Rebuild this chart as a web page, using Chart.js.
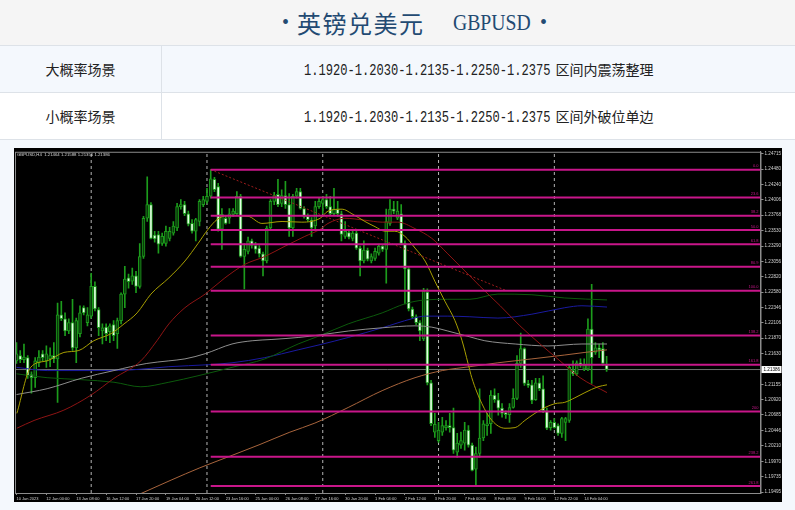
<!DOCTYPE html>
<html>
<head>
<meta charset="utf-8">
<script src="https://cdn.jsdelivr.net/npm/chart.js@4.4.0/dist/chart.umd.min.js"></script>
<style>
  body { margin: 0; width: 795px; height: 510px; background: #f4f8fd; position: relative; overflow: hidden;
         font-family: "Noto Sans CJK SC", sans-serif; }
  #title { position: absolute; left: 0; top: 0; width: 795px; height: 45px; background: #f5f5f5; color: #234a72; }
  #title span { position: absolute; top: 0; height: 45px; line-height: 45px; white-space: nowrap; }
  #title .dot { font-family: "Liberation Serif", serif; font-size: 20px; }
  #title .cn { left: 297px; font-size: 24px; letter-spacing: 1.5px; }
  #title .en { left: 453px; font-family: "Liberation Serif", serif; font-size: 24px;
               transform: scaleX(0.82); transform-origin: left center; }
  .row { position: absolute; left: 0; width: 795px; height: 46px; border-top: 1px solid #dde2e8; }
  .r1 { top: 45px; background: #f4f8fd; }
  .r2 { top: 92px; background: #ffffff; border-bottom: 1px solid #dde2e8; }
  .c1 { position: absolute; left: 0; top: 0; width: 161px; height: 46px; line-height: 46px; text-align: center;
        font-size: 14px; color: #222; border-right: 1px solid #dde2e8; }
  .c2 { position: absolute; left: 162px; top: 0; width: 633px; height: 46px; line-height: 46px; text-align: center;
        font-size: 14px; color: #222; white-space: nowrap; }
  .num { display: inline-block; width: 247px; height: 46px; vertical-align: top; text-align: left; margin-right: 5px; }
  .num span { display: inline-block; font-family: "Liberation Mono", monospace; font-size: 16px;
              transform: scaleX(0.755); transform-origin: left center; }
  #box { position: absolute; left: 14px; top: 148px; width: 768px; height: 354px; background: #000; }
  #info { position: absolute; left: 3px; top: 4px; font-family: "Liberation Sans", sans-serif; font-size: 4.3px;
          color: #d8d8d8; white-space: pre; }
</style>
</head>
<body>
<div id="title">
  <span class="dot" style="left:282px">•</span>
  <span class="cn">英镑兑美元</span>
  <span class="en">GBPUSD</span>
  <span class="dot" style="left:540px">•</span>
</div>
<div class="row r1"><div class="c1">大概率场景</div><div class="c2"><span class="num"><span>1.1920-1.2030-1.2135-1.2250-1.2375</span></span>区间内震荡整理</div></div>
<div class="row r2"><div class="c1">小概率场景</div><div class="c2"><span class="num"><span>1.1920-1.2030-1.2135-1.2250-1.2375</span></span>区间外破位单边</div></div>
<div id="box">
  <canvas id="c" width="768" height="354"></canvas>
  <div id="info">GBPUSD,H4  1.21464 1.21588 1.21356 1.21386</div>
</div>
<script>
// H4 candles, index 0 = 10 Jan 2023 16:00
const opens = [
  1.2152, 1.2160, 1.2154, 1.2157, 1.2131, 1.2126, 1.2149, 1.2163, 1.2152, 1.2155,
  1.2160, 1.2155, 1.2223, 1.2217, 1.2198, 1.2211, 1.2172, 1.2194, 1.2234, 1.2211,
  1.2221, 1.2267, 1.2231, 1.2198, 1.2204, 1.2197, 1.2208, 1.2194, 1.2214, 1.2255,
  1.2280, 1.2275, 1.2283, 1.2267, 1.2313, 1.2372, 1.2393, 1.2346, 1.2347, 1.2333,
  1.2333, 1.2341, 1.2349, 1.2357, 1.2390, 1.2393, 1.2379, 1.2364, 1.2352, 1.2367,
  1.2393, 1.2398, 1.2406, 1.2432, 1.2421, 1.2355, 1.2372, 1.2372, 1.2378, 1.2379,
  1.2406, 1.2313, 1.2321, 1.2337, 1.2330, 1.2326, 1.2317, 1.2306, 1.2357, 1.2398,
  1.2409, 1.2395, 1.2407, 1.2393, 1.2357, 1.2406, 1.2413, 1.2387, 1.2375, 1.2369,
  1.2360, 1.2390, 1.2395, 1.2401, 1.2390, 1.2379, 1.2386, 1.2379, 1.2344, 1.2350,
  1.2341, 1.2349, 1.2326, 1.2306, 1.2323, 1.2306, 1.2310, 1.2318, 1.2329, 1.2324,
  1.2364, 1.2386, 1.2372, 1.2379, 1.2333, 1.2294, 1.2232, 1.2220, 1.2211, 1.2186,
  1.2258, 1.2118, 1.2042, 1.2029, 1.2042, 1.2049, 1.2052, 1.2049, 1.2011, 1.2022,
  1.2025, 1.2045, 1.2022, 1.1985, 1.2009, 1.2033, 1.2052, 1.2055, 1.2099, 1.2092,
  1.2079, 1.2072, 1.2069, 1.2080, 1.2094, 1.2148, 1.2171, 1.2117, 1.2115, 1.2092,
  1.2118, 1.2109, 1.2075, 1.2049, 1.2057, 1.2052, 1.2040, 1.2057, 1.2060, 1.2137,
  1.2132, 1.2149, 1.2139, 1.2139, 1.2201, 1.2165, 1.2172, 1.2171, 1.21464
];
const highs = [
  1.2180, 1.2168, 1.2178, 1.2160, 1.2135, 1.2157, 1.2168, 1.2168, 1.2175, 1.2172,
  1.2180, 1.2241, 1.2244, 1.2226, 1.2217, 1.2247, 1.2218, 1.2237, 1.2237, 1.2234,
  1.2287, 1.2274, 1.2234, 1.2209, 1.2209, 1.2209, 1.2214, 1.2218, 1.2257, 1.2298,
  1.2286, 1.2295, 1.2290, 1.2333, 1.2375, 1.2436, 1.2396, 1.2352, 1.2352, 1.2349,
  1.2360, 1.2358, 1.2367, 1.2395, 1.2401, 1.2398, 1.2383, 1.2370, 1.2372, 1.2401,
  1.2406, 1.2418, 1.2447, 1.2435, 1.2426, 1.2387, 1.2375, 1.2387, 1.2387, 1.2413,
  1.2409, 1.2333, 1.2343, 1.2340, 1.2335, 1.2330, 1.2320, 1.2360, 1.2401, 1.2412,
  1.2432, 1.2416, 1.2429, 1.2410, 1.2409, 1.2418, 1.2418, 1.2390, 1.2379, 1.2373,
  1.2398, 1.2403, 1.2406, 1.2409, 1.2406, 1.2418, 1.2398, 1.2383, 1.2367, 1.2355,
  1.2355, 1.2352, 1.2329, 1.2337, 1.2326, 1.2317, 1.2326, 1.2332, 1.2330, 1.2386,
  1.2401, 1.2398, 1.2398, 1.2393, 1.2337, 1.2297, 1.2235, 1.2223, 1.2214, 1.2264,
  1.2263, 1.2122, 1.2071, 1.2057, 1.2065, 1.2060, 1.2071, 1.2079, 1.2040, 1.2042,
  1.2057, 1.2052, 1.2025, 1.2019, 1.2109, 1.2060, 1.2071, 1.2106, 1.2109, 1.2102,
  1.2086, 1.2075, 1.2086, 1.2109, 1.2160, 1.2195, 1.2172, 1.2122, 1.2122, 1.2125,
  1.2125, 1.2129, 1.2079, 1.2060, 1.2063, 1.2055, 1.2065, 1.2065, 1.2145, 1.2152,
  1.2152, 1.2155, 1.2155, 1.2217, 1.2270, 1.2180, 1.2178, 1.2180, 1.21588
];
const lows = [
  1.2148, 1.2149, 1.2149, 1.2125, 1.2102, 1.2111, 1.2143, 1.2152, 1.2142, 1.2143,
  1.2149, 1.2088, 1.2214, 1.2191, 1.2194, 1.2168, 1.2149, 1.2189, 1.2223, 1.2206,
  1.2218, 1.2229, 1.2191, 1.2178, 1.2183, 1.2180, 1.2183, 1.2171, 1.2209, 1.2234,
  1.2264, 1.2270, 1.2257, 1.2264, 1.2310, 1.2367, 1.2340, 1.2335, 1.2318, 1.2330,
  1.2329, 1.2337, 1.2346, 1.2353, 1.2386, 1.2376, 1.2360, 1.2349, 1.2337, 1.2360,
  1.2390, 1.2395, 1.2403, 1.2413, 1.2352, 1.2324, 1.2363, 1.2364, 1.2375, 1.2378,
  1.2312, 1.2263, 1.2317, 1.2326, 1.2318, 1.2312, 1.2283, 1.2303, 1.2353, 1.2393,
  1.2390, 1.2390, 1.2387, 1.2344, 1.2344, 1.2403, 1.2386, 1.2372, 1.2367, 1.2344,
  1.2355, 1.2387, 1.2379, 1.2387, 1.2376, 1.2376, 1.2375, 1.2337, 1.2341, 1.2340,
  1.2337, 1.2324, 1.2283, 1.2303, 1.2306, 1.2303, 1.2307, 1.2315, 1.2321, 1.2272,
  1.2361, 1.2379, 1.2370, 1.2332, 1.2240, 1.2229, 1.2217, 1.2208, 1.2183, 1.2183,
  1.2115, 1.2052, 1.2034, 1.2026, 1.2037, 1.2045, 1.2042, 1.2009, 1.2003, 1.2017,
  1.2014, 1.2019, 1.1982, 1.1960, 1.2003, 1.2029, 1.2037, 1.2040, 1.2088, 1.2068,
  1.2065, 1.2063, 1.2057, 1.2079, 1.2092, 1.2142, 1.2114, 1.2111, 1.2086, 1.2091,
  1.2106, 1.2072, 1.2046, 1.2045, 1.2048, 1.2037, 1.2034, 1.2029, 1.2057, 1.2129,
  1.2129, 1.2142, 1.2137, 1.2137, 1.2117, 1.2162, 1.2157, 1.2145, 1.21356
];
const closes = [
  1.2163, 1.2154, 1.2158, 1.2129, 1.2126, 1.2152, 1.2158, 1.2157, 1.2163, 1.2160,
  1.2155, 1.2223, 1.2217, 1.2198, 1.2211, 1.2172, 1.2214, 1.2226, 1.2226, 1.2223,
  1.2267, 1.2232, 1.2203, 1.2203, 1.2194, 1.2206, 1.2191, 1.2214, 1.2255, 1.2278,
  1.2274, 1.2283, 1.2267, 1.2313, 1.2372, 1.2393, 1.2341, 1.2340, 1.2332, 1.2344,
  1.2352, 1.2352, 1.2360, 1.2390, 1.2393, 1.2379, 1.2363, 1.2352, 1.2370, 1.2398,
  1.2401, 1.2406, 1.2433, 1.2416, 1.2355, 1.2378, 1.2364, 1.2379, 1.2383, 1.2406,
  1.2313, 1.2324, 1.2337, 1.2330, 1.2324, 1.2317, 1.2306, 1.2357, 1.2398, 1.2407,
  1.2393, 1.2407, 1.2393, 1.2357, 1.2406, 1.2413, 1.2387, 1.2375, 1.2370, 1.2357,
  1.2390, 1.2398, 1.2401, 1.2390, 1.2379, 1.2386, 1.2379, 1.2347, 1.2352, 1.2343,
  1.2349, 1.2326, 1.2306, 1.2323, 1.2309, 1.2313, 1.2321, 1.2329, 1.2324, 1.2367,
  1.2386, 1.2383, 1.2383, 1.2333, 1.2294, 1.2232, 1.2220, 1.2211, 1.2198, 1.2260,
  1.2118, 1.2055, 1.2054, 1.2045, 1.2052, 1.2052, 1.2049, 1.2014, 1.2025, 1.2029,
  1.2045, 1.2022, 1.1983, 1.2009, 1.2033, 1.2055, 1.2055, 1.2099, 1.2092, 1.2079,
  1.2071, 1.2069, 1.2080, 1.2094, 1.2148, 1.2171, 1.2117, 1.2114, 1.2091, 1.2118,
  1.2109, 1.2075, 1.2048, 1.2057, 1.2049, 1.2040, 1.2063, 1.2063, 1.2142, 1.2132,
  1.2149, 1.2145, 1.2145, 1.2201, 1.2157, 1.2172, 1.2169, 1.2148, 1.21386
];

// moving averages, sampled at bar positions
const yellowIdx = [0.1, 3.8, 8.2, 12.7, 16.7, 20.7, 25.3, 28.8, 32.3, 36, 40.8, 45.1, 48.6, 51.3, 53.7, 56.4, 62, 65.7, 71.1, 76.4, 81.3, 83.4, 87.2, 89.8, 93.3, 96, 98.7, 101.3, 104, 106.7, 109.4, 112, 114.7, 117.4, 119.3, 120.9, 121.9, 124.6, 127.3, 130.8, 133.5, 136.1, 138.8, 141.5, 144.2, 146.8, 149.5, 152.2, 155.7, 158.1];
const yellowVal = [1.2071, 1.2142, 1.2152, 1.2165, 1.2168, 1.2183, 1.2194, 1.2209, 1.2226, 1.2255, 1.2280, 1.2306, 1.2333, 1.2355, 1.2370, 1.2376, 1.2375, 1.2364, 1.2367, 1.2366, 1.2372, 1.2383, 1.2386, 1.2379, 1.2367, 1.2359, 1.2352, 1.2352, 1.2344, 1.2326, 1.2306, 1.2275, 1.2244, 1.2214, 1.2183, 1.2148, 1.2126, 1.2086, 1.2060, 1.2048, 1.2049, 1.2060, 1.2071, 1.2080, 1.2086, 1.2088, 1.2095, 1.2103, 1.2112, 1.2115];
const redIdx = [0.1, 4.7, 12.7, 19.9, 26.1, 33.3, 37.6, 40.8, 45.1, 50.5, 55.8, 61.2, 66.5, 71.9, 77.2, 81.3, 83.4, 87.9, 93.3, 97.9, 102.1, 106.7, 111.2, 115.5, 119.3, 121.4, 124.1, 129.5, 134.8, 140.2, 145.5, 150.9, 158.1];
const redVal = [1.2048, 1.2060, 1.2076, 1.2099, 1.2125, 1.2152, 1.2183, 1.2209, 1.2234, 1.2255, 1.2280, 1.2301, 1.2313, 1.2329, 1.2344, 1.2355, 1.2364, 1.2372, 1.2369, 1.2366, 1.2366, 1.2356, 1.2341, 1.2317, 1.2295, 1.2283, 1.2267, 1.2237, 1.2206, 1.2178, 1.2152, 1.2126, 1.2103];
const grayIdx = [0, 8.2, 17.3, 26.1, 34.9, 40.8, 45.1, 50.5, 57.7, 63.1, 68.4, 75.4, 81.3, 88.8, 97.9, 106.7, 111.2, 115.5, 121.4, 125.4, 133.5, 142.3, 151.4, 158.1];
const grayVal = [1.2100, 1.2109, 1.2125, 1.2137, 1.2148, 1.2152, 1.2155, 1.2163, 1.2178, 1.2183, 1.2185, 1.2188, 1.2192, 1.2198, 1.2203, 1.2206, 1.2204, 1.2198, 1.2189, 1.2183, 1.2178, 1.2175, 1.2178, 1.2178];
const greenIdx = [0, 8.2, 17.3, 26.1, 33.3, 40.8, 48.6, 57.7, 66.5, 75.4, 81.3, 88.8, 97.9, 104, 109.4, 115.5, 121.4, 128.9, 138, 146.8, 158.1];
const greenVal = [1.2132, 1.2126, 1.2123, 1.2119, 1.2112, 1.2119, 1.2129, 1.2142, 1.2155, 1.2178, 1.2191, 1.2209, 1.2226, 1.2240, 1.2246, 1.2247, 1.2247, 1.2255, 1.2254, 1.2249, 1.2246];
const blueIdx = [0, 8.2, 19.9, 30.7, 40.8, 51.3, 57.7, 66.5, 75.4, 81.3, 88.8, 97.9, 105.9, 109.4, 115.5, 121.4, 128.9, 138, 146.8, 151.4, 158.1];
const blueVal = [1.2142, 1.2137, 1.2137, 1.2138, 1.2143, 1.2146, 1.2149, 1.2157, 1.2169, 1.2177, 1.2188, 1.2203, 1.2217, 1.2221, 1.2221, 1.2220, 1.2218, 1.2224, 1.2234, 1.2237, 1.2235];
const orangeIdx = [27.7, 33.6, 41.4, 49.1, 57.2, 65.2, 73.2, 79.9, 88.8, 97.9, 106.7, 114, 121.4, 128.9, 138, 146.8, 152.2, 158.1];
const orangeVal = [1.1933, 1.1948, 1.1968, 1.1987, 1.2005, 1.2023, 1.2042, 1.2056, 1.2080, 1.2106, 1.2126, 1.2137, 1.2143, 1.2149, 1.2155, 1.2161, 1.2165, 1.2169];

// fibonacci object
const fibText = ['0.0', '23.6', '38.2', '50.0', '61.8', '80.9', '100.0', '138.2', '161.8', '200', '238.2', '261.8'];
const fibPrice = [1.2447, 1.2404, 1.2376, 1.2354, 1.2332, 1.2297, 1.2260, 1.2191, 1.2146, 1.2074, 1.2004, 1.1959];
const fibStartIdx = 52;
const trendIdx = [52, 131.3];
const trendVal = [1.2447, 1.2260];

const lastPrice = 1.21386;
const separatorIdx = [20, 51, 82, 113, 144];

const xTickIdx = [0, 8, 16, 24, 32, 40, 48, 56, 64, 72, 80, 88, 96, 104, 112, 120, 128, 136, 144, 152];
const xTickText = ['10 Jan 2023', '12 Jan 00:00', '13 Jan 08:00', '16 Jan 12:00', '17 Jan 20:00', '19 Jan 04:00',
  '20 Jan 12:00', '23 Jan 16:00', '25 Jan 00:00', '26 Jan 08:00', '27 Jan 16:00', '30 Jan 20:00', '1 Feb 04:00',
  '2 Feb 12:00', '3 Feb 20:00', '7 Feb 00:00', '8 Feb 08:00', '9 Feb 16:00', '12 Feb 22:00', '14 Feb 04:00'];
const yTickVals = [1.24715, 1.24480, 1.24240, 1.24006, 1.23768, 1.23530, 1.23290, 1.23056, 1.22820, 1.22580,
  1.22346, 1.22106, 1.21870, 1.21630, 1.21155, 1.20920, 1.20685, 1.20446, 1.20210, 1.19970, 1.19735, 1.19495];

const X_MIN = -0.4, X_MAX = 199.2;
const Y_MIN = 1.19481, Y_MAX = 1.24746;

const wickColor = '#1c9c1c';
const fibColor = '#c8168a';

const maLine = (idx, vals, color) => ({
  type: 'line',
  data: idx.map((x, k) => ({ x, y: vals[k] })),
  borderColor: color,
  borderWidth: 1,
  pointRadius: 0,
  cubicInterpolationMode: 'monotone',
  order: 1
});

const flatLine = (x0, x1, y, color, width, order) => ({
  type: 'line',
  data: [{ x: x0, y }, { x: x1, y }],
  borderColor: color,
  borderWidth: width,
  pointRadius: 0,
  order
});

const sepData = [];
separatorIdx.forEach(s => {
  sepData.push({ x: s, y: Y_MIN }, { x: s, y: Y_MAX }, { x: s, y: null });
});

const mtPlugin = {
  id: 'mt',
  afterDatasetsDraw(chart) {
    const { ctx, chartArea: a, scales: { y } } = chart;
    ctx.save();
    ctx.font = '4px "Liberation Sans"';
    ctx.fillStyle = fibColor;
    ctx.textAlign = 'right';
    ctx.textBaseline = 'bottom';
    fibPrice.forEach((p, k) => ctx.fillText(fibText[k], a.right - 2, y.getPixelForValue(p) - 1.5));
    ctx.restore();
  },
  afterDraw(chart) {
    const { ctx, chartArea: a, scales: { y } } = chart;
    ctx.save();
    ctx.strokeStyle = '#8c8c8c';
    ctx.lineWidth = 1;
    ctx.strokeRect(a.left + 0.5, a.top + 0.5, a.right - a.left, a.bottom - a.top);
    const py = y.getPixelForValue(lastPrice);
    ctx.fillStyle = '#ffffff';
    ctx.fillRect(a.right + 1, py - 3.5, 20, 7);
    ctx.fillStyle = '#000000';
    ctx.font = '4.6px "Liberation Sans"';
    ctx.textBaseline = 'middle';
    ctx.fillText(lastPrice.toFixed(5), a.right + 3, py + 0.5);
    ctx.restore();
  }
};

new Chart(document.getElementById('c'), {
  type: 'bar',
  data: {
    datasets: [
      ...fibPrice.map(p => flatLine(fibStartIdx, X_MAX, p, fibColor, 2, 0)),
      {
        type: 'line',
        data: trendIdx.map((x, k) => ({ x, y: trendVal[k] })),
        borderColor: '#9c1c1c', borderWidth: 1, borderDash: [2, 2], pointRadius: 0, order: 0
      },
      maLine(yellowIdx, yellowVal, '#a89f00'),
      maLine(redIdx, redVal, '#8e1414'),
      maLine(grayIdx, grayVal, '#8e8e8e'),
      maLine(greenIdx, greenVal, '#0c5a0c'),
      maLine(blueIdx, blueVal, '#1a1aa0'),
      maLine(orangeIdx, orangeVal, '#a8643c'),
      {
        data: opens.map((o, i) => ({ x: i, y: [o, closes[i]] })),
        backgroundColor: opens.map((o, i) => closes[i] >= o ? '#0a3c0a' : '#e2ffe2'),
        borderColor: wickColor,
        borderWidth: 1,
        borderSkipped: false,
        barThickness: 3,
        minBarLength: 1,
        grouped: false,
        order: 2
      },
      {
        data: lows.map((l, i) => ({ x: i, y: [l, highs[i]] })),
        backgroundColor: wickColor,
        borderWidth: 0,
        barThickness: 1,
        grouped: false,
        order: 3
      },
      {
        type: 'line', data: sepData, borderColor: '#b4b4b4', borderWidth: 1, borderDash: [3, 3],
        pointRadius: 0, spanGaps: false, order: 4
      },
      flatLine(X_MIN, X_MAX, lastPrice, '#6f6f6f', 1, 4)
    ]
  },
  options: {
    responsive: false,
    devicePixelRatio: 1,
    animation: false,
    events: [],
    layout: { padding: { left: 1, top: 2, right: 0, bottom: 0 } },
    plugins: { legend: { display: false }, tooltip: { enabled: false } },
    scales: {
      x: {
        type: 'linear', min: X_MIN, max: X_MAX, offset: false,
        grid: { drawOnChartArea: false, offset: false, tickLength: 2, color: '#8c8c8c' },
        border: { color: '#8c8c8c' },
        afterBuildTicks: s => { s.ticks = xTickIdx.map(v => ({ value: v })); },
        afterFit: s => { s.height = 9; },
        ticks: {
          autoSkip: false, maxRotation: 0, align: 'start', padding: 1,
          color: '#d0d0d0', font: { family: 'Liberation Sans', size: 4 },
          callback: (v, k) => xTickText[k]
        }
      },
      y: {
        position: 'right', min: Y_MIN, max: Y_MAX,
        grid: { drawOnChartArea: false, tickLength: 3, color: '#8c8c8c' },
        border: { color: '#8c8c8c' },
        afterBuildTicks: s => { s.ticks = yTickVals.map(v => ({ value: v })); },
        afterFit: s => { s.width = 21.5; },
        ticks: {
          autoSkip: false, padding: 1, color: '#d0d0d0', font: { family: 'Liberation Sans', size: 4.6 },
          callback: v => v.toFixed(5)
        }
      }
    }
  },
  plugins: [mtPlugin]
});
</script>
</body>
</html>
